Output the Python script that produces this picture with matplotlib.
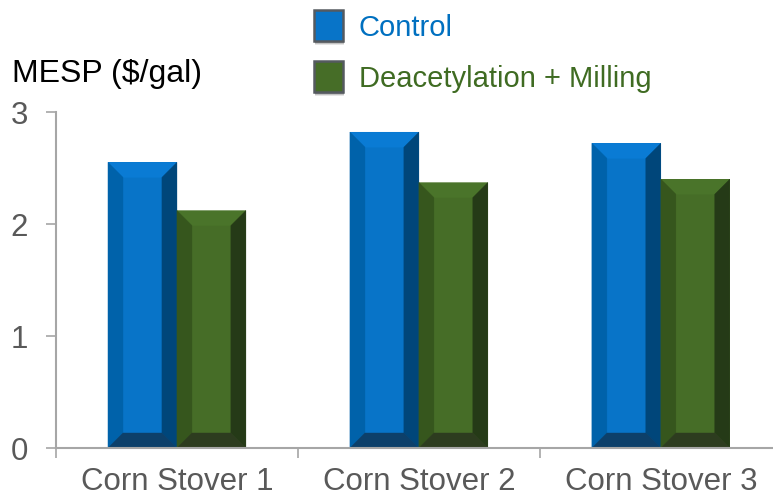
import numpy as np
import matplotlib
matplotlib.use("Agg")
import matplotlib.pyplot as plt
from matplotlib.patches import Polygon, Rectangle

plt.rcParams['font.family'] = ['Liberation Sans', 'DejaVu Sans']

categories = ["Corn Stover 1", "Corn Stover 2", "Corn Stover 3"]
series_names = ["Control", "Deacetylation + Milling"]
control = [2.55, 2.82, 2.72]
deacetyl = [2.12, 2.37, 2.40]
yticks = [0, 1, 2, 3]

# face, top, left, right, bottom shades for the bevelled bars
blue_shades = ["#0874c8", "#0a7bd4", "#0062aa", "#00467a", "#0d406a"]
green_shades = ["#466d27", "#4a742a", "#36561d", "#253a17", "#2d3c1f"]
text_gray = "#595959"
axis_gray = "#a6a6a6"

fig = plt.figure(figsize=(7.73, 4.99), dpi=100)
ax = fig.add_axes([0.0724, 0.1022, 0.939, 0.6733])

x = np.arange(len(categories))
width = 0.285
ax.set_xlim(-0.5, 2.5)
ax.set_ylim(0, 3)

bars_c = ax.bar(x - width / 2, control, width, color=blue_shades[0], zorder=2)
bars_d = ax.bar(x + width / 2, deacetyl, width, color=green_shades[0], zorder=2)

# bevel size in pixels, converted to data units
bevel_px = 15
x_per_px = 3.0 / (0.939 * 773)
y_per_px = 3.0 / (0.6733 * 499)
bx = bevel_px * x_per_px
by = bevel_px * y_per_px


def bevel(bars, shades):
    for b in bars:
        x0 = b.get_x()
        x1 = x0 + b.get_width()
        h = b.get_height()
        ix0, ix1, iy0, iy1 = x0 + bx, x1 - bx, by, h - by
        faces = [
            ([(x0, h), (x1, h), (ix1, iy1), (ix0, iy1)], shades[1]),
            ([(x0, 0), (ix0, iy0), (ix0, iy1), (x0, h)], shades[2]),
            ([(x1, 0), (x1, h), (ix1, iy1), (ix1, iy0)], shades[3]),
            ([(x0, 0), (x1, 0), (ix1, iy0), (ix0, iy0)], shades[4]),
        ]
        for pts, c in faces:
            ax.add_patch(Polygon(pts, closed=True, facecolor=c,
                                 edgecolor=c, lw=0.3, zorder=3))


bevel(bars_c, blue_shades)
bevel(bars_d, green_shades)

for side in ["top", "right"]:
    ax.spines[side].set_visible(False)
for side in ["left", "bottom"]:
    ax.spines[side].set_color(axis_gray)
    ax.spines[side].set_linewidth(1.5)
    ax.spines[side].set_zorder(4)

ax.set_yticks(yticks)
ax.set_yticklabels([str(t) for t in yticks])
ax.tick_params(axis="y", length=7, width=1.2, color=axis_gray,
               labelcolor=text_gray, labelsize=22.5, pad=13)

ax.set_xticks([-0.5, 0.5, 1.5, 2.5])
ax.set_xticklabels([])
ax.set_xticks(x, minor=True)
ax.set_xticklabels(categories, minor=True)
ax.tick_params(axis="x", which="major", length=7, width=1.2, color=axis_gray)
ax.tick_params(axis="x", which="minor", length=0, labelcolor=text_gray,
               labelsize=22.5, pad=14)

fig.text(12 / 773, 1 - 74 / 499, "MESP ($/gal)", fontsize=23,
         color="black", ha="left", va="center")

# legend drawn as boxes with a soft shadow
W, H = 773.0, 499.0
legend_items = [
    (series_names[0], blue_shades[0], "#0070c0", 25),
    (series_names[1], green_shades[0], "#3f6b22", 76),
]
for label, fc, tc, yc in legend_items:
    sx, sy, sw, sh = 314, yc - 15, 29, 31
    for k, a in [(4, 0.10), (3, 0.15), (2, 0.2)]:
        fig.add_artist(Rectangle(((sx + 1) / W, 1 - (sy + sh + k) / H),
                                 sw / W, sh / H, transform=fig.transFigure,
                                 facecolor="black", edgecolor="none", alpha=a))
    fig.add_artist(Rectangle((sx / W, 1 - (sy + sh) / H), sw / W, sh / H,
                             transform=fig.transFigure, facecolor=fc,
                             edgecolor="#555a60", lw=1.8))
    fig.text(359 / W, 1 - (yc + 3) / H, label, fontsize=21, color=tc,
             ha="left", va="center")

fig.savefig("out.png", dpi=100)
